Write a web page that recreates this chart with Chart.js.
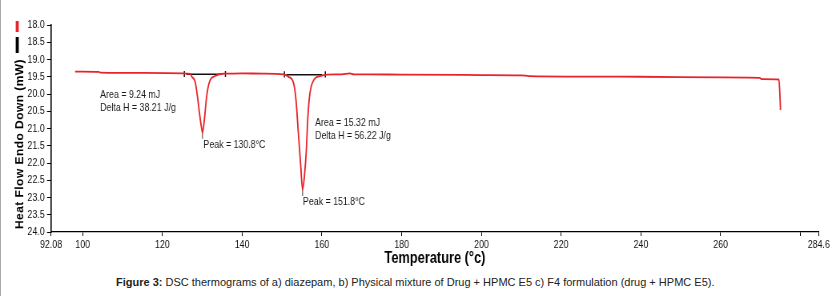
<!DOCTYPE html>
<html>
<head>
<meta charset="utf-8">
<script src="https://cdn.jsdelivr.net/npm/chart.js@4.4.1/dist/chart.umd.min.js"></script>
<style>
  html, body { margin: 0; padding: 0; background: #fff; }
  body { width: 834px; height: 296px; position: relative; overflow: hidden; }
  #edge { position: absolute; left: 0; top: 0; width: 1px; height: 296px; background: #aaa; }
  /* the source picture is squeezed sideways, so the chart is drawn wide and scaled down */
  #wrap { position: absolute; left: 0; top: 0; width: 1042.5px; height: 272px; transform: scaleX(0.8); transform-origin: 0 0; }
  #caption { position: absolute; left: 116px; top: 276px; font: 11px 'Liberation Sans', Arial, sans-serif; color: #222; white-space: nowrap; }
</style>
</head>
<body>
<div id="edge"></div>
<div id="wrap"><canvas id="dsc"></canvas></div>
<div id="caption"><b>Figure 3:</b> DSC thermograms of a) diazepam, b) Physical mixture of Drug + HPMC E5 c) F4 formulation (drug + HPMC E5).</div>
<script>
// DSC curve
const temps    = [98.1, 100, 104, 104.5, 115, 125, 127, 127.4, 128.2, 128.8, 129.3, 129.9, 130.05, 130.6, 131.0, 131.4, 132.0, 133.2, 134.5, 136, 140, 145,
                  150.4, 151.6, 152.9, 153.5, 154.1, 154.7, 155.15, 155.6, 156.1, 156.4, 156.8, 157.3, 158.1, 159.6, 161.3, 165, 167, 168, 172, 180,
                  200, 210, 212, 240, 260, 269.8, 270.2, 274.6, 274.8, 275.0];
const heatFlow = [19.35, 19.35, 19.36, 19.38, 19.39, 19.40, 19.42, 19.50, 19.64, 20.08, 20.56, 21.04, 21.12, 20.66, 20.17, 19.84, 19.59, 19.48, 19.42, 19.41, 19.40, 19.41,
                  19.43, 19.50, 19.69, 20.17, 21.14, 22.10, 22.78, 22.40, 21.62, 20.85, 20.17, 19.79, 19.57, 19.48, 19.44, 19.43, 19.40, 19.43, 19.43, 19.44,
                  19.45, 19.46, 19.48, 19.50, 19.52, 19.53, 19.57, 19.58, 19.90, 20.46];

// integration limits and baseline level
const integStart = [125.5, 150.6];
const integEnd   = [135.8, 160.85];
const integLevel = [19.43, 19.44];

// peak markers
const peakT = [130.05, 155.15];
const peakV = [21.12, 22.78];

// annotations
const noteText = ['Area = 9.24 mJ', 'Delta H = 38.21 J/g', 'Peak = 130.8°C', 'Area = 15.32 mJ', 'Delta H = 56.22 J/g', 'Peak = 151.8°C'];
const noteT    = [104.4, 104.4, 130.3, 158.3, 158.3, 155.25];
const noteV    = [20.03, 20.41, 21.48, 20.83, 21.22, 23.12];

// axes
const xMin = 92.08, xMax = 284.6;
const xTicks = [92.08, 100, 120, 140, 160, 180, 200, 220, 240, 260, 280, 284.6];
const xHidden = [280];
const yMin = 18, yMax = 24, yStep = 0.5;
const yTitle = 'Heat Flow Endo Down (mW)';
const xTitle = 'Temperature (°c)';

const FONT = "'Liberation Sans', Arial, sans-serif";
const SX = 0.8;
Chart.defaults.font.family = FONT;
Chart.defaults.color = '#111';

const curve = temps.map((t, i) => ({ x: t, y: heatFlow[i] }));

const integ = [];
integStart.forEach((s, i) => {
  const e = integEnd[i], lv = integLevel[i];
  integ.push({ x: s, y: lv - 0.1 }, { x: s, y: lv + 0.08 }, { x: s, y: null });
  integ.push({ x: s + 0.5, y: lv }, { x: e - 0.8, y: lv }, { x: e, y: null });
  integ.push({ x: e, y: lv - 0.1 }, { x: e, y: lv + 0.08 }, { x: e, y: null });
});

const peaks = [];
peakT.forEach((t, i) => {
  peaks.push({ x: t, y: peakV[i] - 0.05 }, { x: t, y: peakV[i] + 0.18 }, { x: t, y: null });
});

const notesPlugin = {
  id: 'notes',
  afterDatasetsDraw(chart) {
    const { ctx, scales: { x, y } } = chart;
    ctx.save();
    ctx.font = '11px ' + FONT;
    ctx.fillStyle = '#1a1a1a';
    ctx.textBaseline = 'middle';
    ctx.textAlign = 'left';
    noteText.forEach((t, i) => ctx.fillText(t, x.getPixelForValue(noteT[i]), y.getPixelForValue(noteV[i])));
    ctx.restore();
  }
};

const yTitlePlugin = {
  id: 'ytitle',
  afterDraw(chart) {
    const ctx = chart.ctx;
    ctx.save();
    // small legend bars above the title
    ctx.fillStyle = '#e8232a';
    ctx.fillRect(19.6, 21, 3.8, 11);
    ctx.fillStyle = '#000';
    ctx.fillRect(19.6, 37, 3.8, 16);
    // undo the sideways squeeze so the rotated letters keep their height
    ctx.translate(24.4, 144);
    ctx.scale(1 / SX, 1);
    ctx.rotate(-Math.PI / 2);
    ctx.font = 'bold 12px ' + FONT;
    if ('letterSpacing' in ctx) ctx.letterSpacing = '0.45px';
    ctx.fillStyle = '#000';
    ctx.textAlign = 'center';
    ctx.textBaseline = 'middle';
    ctx.fillText(yTitle, 0, 0);
    ctx.restore();
  }
};

new Chart(document.getElementById('dsc'), {
  type: 'line',
  data: {
    datasets: [
      { data: curve, borderColor: '#e8232a', borderWidth: 1.8, pointRadius: 0, cubicInterpolationMode: 'monotone', fill: false },
      { data: integ, borderColor: '#111', borderWidth: 1.5, pointRadius: 0, tension: 0, spanGaps: false },
      { data: peaks, borderColor: '#555', borderWidth: 1.2, pointRadius: 0, tension: 0, spanGaps: false }
    ]
  },
  options: {
    responsive: true,
    maintainAspectRatio: false,
    animation: false,
    devicePixelRatio: 1,
    layout: { padding: { top: 25, right: 20, left: 0, bottom: 0 } },
    plugins: { legend: { display: false }, tooltip: { enabled: false } },
    scales: {
      x: {
        type: 'linear',
        min: xMin,
        max: xMax,
        afterBuildTicks(scale) { scale.ticks = xTicks.map(v => ({ value: v })); },
        afterFit(scale) { scale.height = 40; },
        ticks: {
          autoSkip: false,
          maxRotation: 0,
          padding: 2,
          font: { size: 11 },
          color: '#111',
          callback: v => xHidden.includes(v) ? '' : String(v)
        },
        grid: { display: true, drawOnChartArea: false, drawTicks: true, tickLength: 4, color: '#000', lineWidth: 1 },
        border: { display: true, color: '#000', width: 1.3 },
        title: { display: true, text: xTitle, font: { size: 16, weight: 'bold' }, color: '#000', padding: { top: 0, bottom: 4 } }
      },
      y: {
        type: 'linear',
        min: yMin,
        max: yMax,
        reverse: true,
        afterFit(scale) { scale.width = 63.75; },
        ticks: {
          stepSize: yStep,
          padding: 3,
          font: { size: 11 },
          color: '#111',
          callback: v => v.toFixed(1)
        },
        grid: { display: true, drawOnChartArea: false, drawTicks: true, tickLength: 5, color: '#000', lineWidth: 1 },
        border: { display: true, color: '#000', width: 1.6 }
      }
    }
  },
  plugins: [notesPlugin, yTitlePlugin]
});
</script>
</body>
</html>
